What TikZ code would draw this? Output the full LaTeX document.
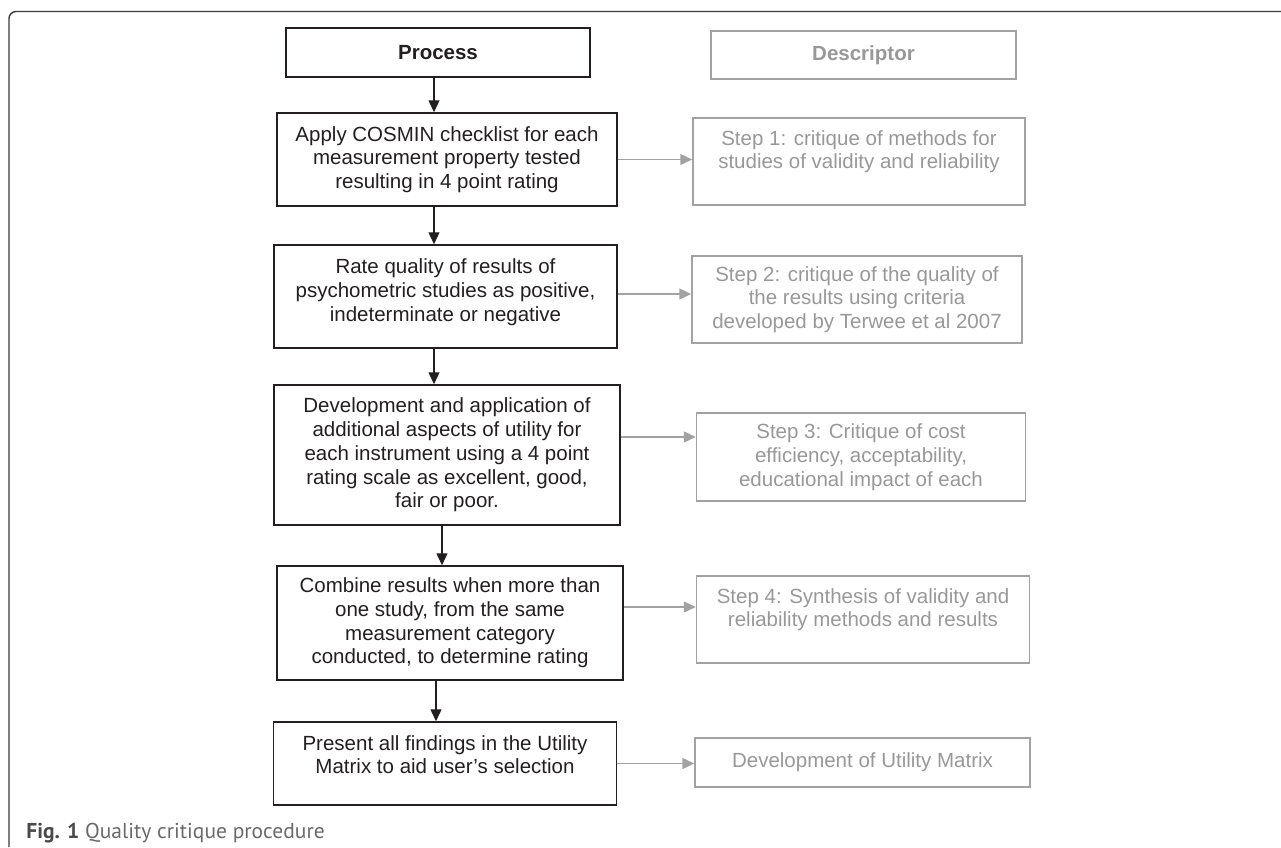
\documentclass[tikz,border=0pt]{standalone}
\usepackage{fontspec}
\setmainfont{Liberation Sans}
\newfontfamily\capfont{PT Sans}
\usepackage{xcolor}
\usetikzlibrary{arrows.meta}
\definecolor{boxblack}{HTML}{231F20}
\definecolor{boxgray}{HTML}{A2A2A2}
\definecolor{textgray}{HTML}{989898}
\definecolor{framegray}{HTML}{3A3A3A}
\definecolor{capdark}{HTML}{4A4A4A}
\definecolor{caplight}{HTML}{6A6A6A}

\tikzset{
  boxfont/.style={font={\fontsize{10.25pt}{11.85pt}\selectfont}},
  procbox/.style={draw=boxblack, line width=0.75pt, text=boxblack, boxfont, align=center, inner sep=0pt},
  descbox/.style={draw=boxgray, line width=0.75pt, text=textgray, boxfont, align=center, inner sep=0pt},
  down/.style={draw=boxblack, line width=0.65pt, -{Triangle[length=6pt,width=5.5pt]}},
  across/.style={draw=boxgray, line width=0.75pt, -{Triangle[length=6pt,width=5.5pt]}}
}

\begin{document}
\begin{tikzpicture}[x=0.5pt, y=-0.5pt]
    \useasboundingbox (0,0) rectangle (1281,847);

    % Frame
    \draw[framegray, line width=0.7pt, rounded corners=3.5pt] (9,847) -- (9,11.5) -- (1281,11.5);

    % Define nodes
    \node[procbox, minimum width=152pt, minimum height=24.5pt] (proc) at (438,52.5) {\textbf{Process}};
    \node[descbox, minimum width=152.5pt, minimum height=24pt] (desc) at (863.5,55) {\textbf{Descriptor}};

    \node[procbox, minimum width=170pt, minimum height=46.5pt] (p1) at (447,159.5)
        {Apply COSMIN checklist for each\\measurement property tested\\resulting in 4 point rating};
    \node[descbox, minimum width=166pt, minimum height=43.5pt] (d1) at (859,161.5)
        {Step 1: critique of methods for\\studies of validity and reliability\\\mbox{}};

    \node[procbox, minimum width=171.5pt, minimum height=51.5pt] (p2) at (445.5,296.5)
        {Rate quality of results of\\psychometric studies as positive,\\indeterminate or negative\\[-5.3pt]\mbox{}};
    \node[descbox, minimum width=165pt, minimum height=43.5pt] (d2) at (857,299.5)
        {Step 2: critique of the quality of\\the results using criteria\\developed by Terwee et al 2007};

    \node[procbox, minimum width=173pt, minimum height=70pt] (p3) at (447,455)
        {Development and application of\\additional aspects of utility for\\each instrument using a 4 point\\rating scale as excellent, good,\\fair or poor.};
    \node[descbox, minimum width=164.5pt, minimum height=44pt] (d3) at (861,457)
        {Step 3: Critique of cost\\efficiency, acceptability,\\educational impact of each};

    \node[procbox, minimum width=173pt, minimum height=57pt] (p4) at (450,623)
        {Combine results when more than\\one study, from the same\\measurement category\\conducted, to determine rating};
    \node[descbox, minimum width=166.5pt, minimum height=43.5pt] (d4) at (863,619.5)
        {Step 4: Synthesis of validity and\\reliability methods and results\\\mbox{}};

    \node[procbox, minimum width=171.5pt, minimum height=41.5pt] (p5) at (445,763.5)
        {Present all findings in the Utility\\Matrix to aid user's selection\\[-2.8pt]\mbox{}};
    \node[descbox, minimum width=167.5pt, minimum height=24.5pt] (d5) at (862.5,762.5)
        {Development of Utility Matrix};

    % Draw edges
    \draw[down] ([xshift=-2pt]proc.south) -- ([xshift=-2pt]proc.south |- p1.north);
    \draw[down] ([xshift=-6.5pt]p1.south) -- ([xshift=-6.5pt]p1.south |- p2.north);
    \draw[down] ([xshift=-5.75pt]p2.south) -- ([xshift=-5.75pt]p2.south |- p3.north);
    \draw[down] ([xshift=-2.5pt]p3.south) -- ([xshift=-2.5pt]p3.south |- p4.north);
    \draw[down] ([xshift=-7pt]p4.south) -- ([xshift=-7pt]p4.south |- p5.north);

    \draw[across] (p1.east) -- (p1.east -| d1.west);
    \draw[across] ([yshift=1.25pt]p2.east) -- ([yshift=1.25pt]p2.east -| d2.west);
    \draw[across] ([yshift=9pt]p3.east) -- ([yshift=9pt]p3.east -| d3.west);
    \draw[across] ([yshift=8pt]p4.east) -- ([yshift=8pt]p4.east -| d4.west);
    \draw[across] (p5.east) -- (p5.east -| d5.west);

    % Caption
    \node[anchor=base west, inner sep=0pt, font={\capfont\fontsize{10.75pt}{12pt}\selectfont}] (cap) at (26,838)
        {\textcolor{capdark}{\textbf{Fig. 1}} \textcolor{caplight}{Quality critique procedure}};
\end{tikzpicture}
\end{document}
